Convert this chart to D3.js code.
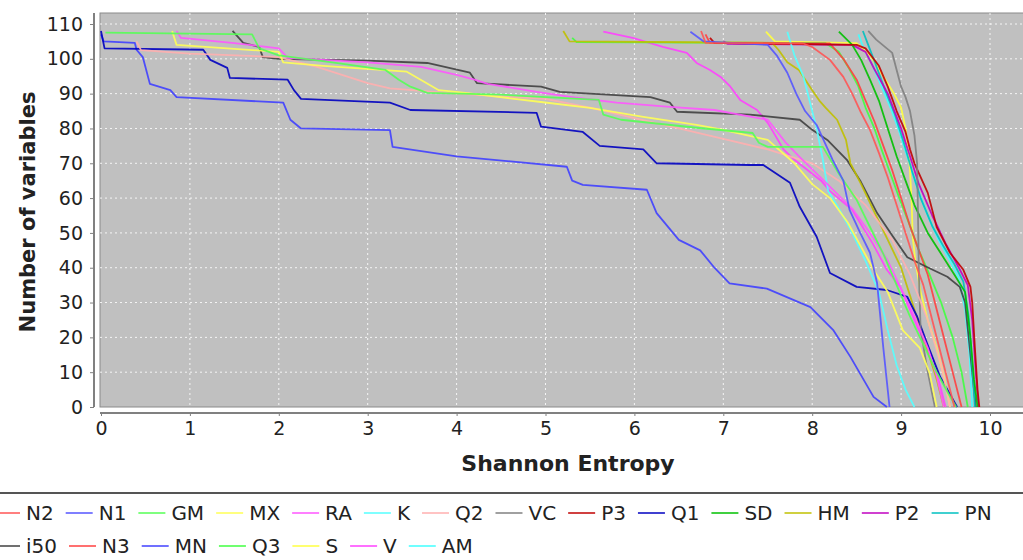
<!DOCTYPE html>
<html>
<head>
<meta charset="utf-8">
<script src="https://cdn.jsdelivr.net/npm/d3@7"></script>
<style>
  body { margin: 0; background: #fff; }
  svg { display: block; font-family: "DejaVu Sans", Verdana, sans-serif; }
</style>
</head>
<body>
<script>
// tick values
const xTicks = [0, 1, 2, 3, 4, 5, 6, 7, 8, 9, 10];
const yTicks = [0, 10, 20, 30, 40, 50, 60, 70, 80, 90, 100, 110];

// series names, in legend order
const seriesNames = ["N2", "N1", "GM", "MX", "RA", "K", "Q2", "VC", "P3", "Q1", "SD", "HM", "P2", "PN",
                     "i50", "N3", "MN", "Q3", "S", "V", "AM"];

// [entropy, number of variables]
const N2 = [[6.75,108],[6.8,104.6],[7.9,104.4],[8.0,103.4],[8.2,99.7],[8.35,94.8],[8.45,90],[8.55,84.5],[8.65,79.6],[8.75,73],[8.85,66],[8.95,58],[9.05,50],[9.15,42],[9.25,35],[9.35,25],[9.45,15],[9.55,5],[9.6,0]];
const N1 = [[6.63,107.8],[6.78,105],[7.5,104],[7.6,101],[7.72,96],[7.82,90],[7.92,85],[8.05,81],[8.23,71],[8.35,65],[8.42,56.6],[8.54,50],[8.65,44.3],[8.73,35.6],[8.8,17],[8.87,0]];
const GM = [[0.05,107.5],[1.7,107],[1.78,103],[2.0,101],[2.6,99],[3.2,96.8],[3.35,94],[3.48,92],[3.67,90.2],[4.5,89.7],[5.6,88.2],[5.65,84],[5.85,82.5],[6.7,80.2],[7.33,78.7],[7.4,75.9],[7.5,74.7],[8.12,74.7],[8.3,67],[8.5,59.5],[8.65,51.7],[8.8,44],[8.95,35],[9.1,26],[9.25,18],[9.4,10],[9.55,3],[9.62,0]];
const MX = [[0.8,108],[0.85,104],[2.0,102],[2.05,99],[2.5,98],[3.44,96.3],[3.8,91],[4.1,90.2],[4.95,87.6],[5.5,85.9],[6.1,83.3],[6.7,81],[7.0,79.6],[7.5,76.7],[7.8,70],[8.0,64],[8.2,60],[8.4,53],[8.55,46],[8.7,39],[8.85,33],[9.02,22],[9.21,17],[9.32,9.8],[9.4,0]];
const RA = [[0.85,108],[0.9,106],[1.5,104.5],[2.0,103],[2.1,100.3],[3.0,99],[3.6,97.7],[4.0,95.4],[4.2,94],[4.35,92.8],[4.9,90.5],[5.3,89],[5.8,87.4],[6.4,86.2],[6.9,85.3],[7.5,82.5],[7.7,76],[7.86,71.8],[8.05,67],[8.25,62],[8.45,57],[8.65,50],[8.85,42],[9.0,34],[9.15,26],[9.3,17],[9.4,9],[9.48,0]];
const K = [[7.72,107.8],[7.8,101],[7.9,95],[7.97,88],[8.05,80],[8.12,71],[8.18,62],[8.3,57],[8.45,50],[8.6,42],[8.75,33],[8.85,22],[8.95,12],[9.05,5],[9.15,0]];
const Q2 = [[0.4,105],[0.45,102.5],[1.0,101.5],[2.0,100.5],[2.43,97.7],[3.0,93],[3.25,91.5],[4.0,90],[5.0,88.5],[5.5,86],[6.0,83],[6.5,80],[7.0,77],[7.5,74],[8.0,70],[8.3,65],[8.6,58],[8.9,48],[9.1,38],[9.3,25],[9.45,12],[9.55,0]];
const VC = [[8.63,108],[8.72,105.5],[8.9,101.7],[8.95,96.8],[9.0,92],[9.05,89],[9.1,85],[9.15,78],[9.18,70],[9.19,55],[9.2,38],[9.22,22],[9.3,10],[9.38,0]];
const P3 = [[6.85,106],[6.9,104.6],[8.5,104],[8.6,103],[8.75,98],[8.85,92],[8.95,85],[9.05,79],[9.1,74],[9.15,70],[9.3,61.5],[9.4,51.7],[9.55,44.3],[9.7,39.4],[9.78,34.5],[9.8,30],[9.83,17],[9.86,5],[9.88,0]];
const Q1 = [[0,108],[0.04,103],[1.15,102.6],[1.23,99.7],[1.42,97.4],[1.45,94.5],[2.1,94],[2.17,91],[2.25,88.5],[3.25,87.4],[3.48,85.3],[4.9,84.5],[4.95,80.5],[5.42,79],[5.61,75],[6.1,74],[6.25,70],[7.3,69.5],[7.45,69.5],[7.75,64.4],[7.86,57.5],[8.05,48.9],[8.2,38.5],[8.5,34.5],[8.84,33.6],[9.07,31.6],[9.18,26],[9.29,18.4],[9.44,8.6],[9.63,0]];
const SD = [[8.3,107.8],[8.45,104],[8.55,99.7],[8.65,94],[8.75,88],[8.85,80],[8.95,72],[9.05,65],[9.15,58],[9.3,50],[9.45,44],[9.6,38],[9.72,33],[9.78,20],[9.82,8],[9.86,0]];
const HM = [[5.2,108],[5.27,105],[7.55,104.6],[7.62,102.6],[7.72,99],[7.85,96.8],[8.0,91],[8.08,88],[8.15,86],[8.28,82.5],[8.38,76.7],[8.43,70],[8.55,64],[8.7,56],[8.85,48],[9.0,40],[9.1,32],[9.2,24],[9.3,16],[9.4,8],[9.48,0]];
const P2 = [[7.0,105],[7.05,104.3],[8.45,104],[8.6,102],[8.7,97],[8.85,90],[9.0,80],[9.1,72],[9.2,64],[9.35,55],[9.5,47],[9.65,40],[9.75,35],[9.8,25],[9.84,10],[9.87,0]];
const PN = [[8.57,108],[8.63,104],[8.72,98],[8.82,91],[8.93,84],[9.03,76],[9.12,68],[9.22,60],[9.35,52],[9.48,46],[9.6,41],[9.7,36],[9.76,26],[9.8,12],[9.83,0]];
const i50 = [[1.48,108],[1.55,106],[1.6,104.6],[1.78,103.4],[1.82,100.5],[2.0,100],[3.0,99.5],[3.67,98.8],[4.15,96],[4.23,93],[4.95,92],[5.16,90.5],[6.18,89],[6.4,87.4],[6.48,84.8],[7.3,84],[7.86,82.5],[8.0,79.6],[8.17,76.7],[8.39,71],[8.54,65],[8.73,55.7],[8.91,48.9],[9.07,43],[9.29,40.2],[9.52,37.4],[9.66,34.5],[9.72,30],[9.78,15],[9.84,0]];
const N3 = [[6.8,107],[6.85,104.5],[8.2,104.4],[8.35,100],[8.5,94],[8.6,88],[8.7,82],[8.8,75],[8.9,68],[9.0,60],[9.1,52],[9.2,45],[9.3,38],[9.4,28],[9.5,18],[9.6,8],[9.68,0]];
const MN = [[0,107],[0.03,105],[0.38,104.6],[0.4,102.6],[0.47,100.5],[0.55,92.8],[0.78,91],[0.85,89],[2.05,87.4],[2.13,82.5],[2.25,80],[3.25,79.5],[3.28,74.7],[4.0,72],[5.24,69],[5.3,65],[5.42,63.8],[6.14,62.4],[6.25,55.7],[6.5,48],[6.74,45],[6.9,40],[7.07,35.5],[7.49,34],[7.98,28.7],[8.24,22],[8.43,14.4],[8.69,2.9],[8.84,0]];
const Q3 = [[5.3,106],[5.35,104.8],[8.15,104.5],[8.3,102],[8.42,97],[8.52,92],[8.6,86],[8.7,80],[8.78,74],[8.88,67],[8.98,60],[9.1,52],[9.2,45],[9.32,38],[9.45,30],[9.58,20],[9.68,10],[9.75,0]];
const S = [[7.48,107.8],[7.58,105],[8.5,104.5],[8.65,101],[8.8,95],[8.92,90],[9.0,86],[9.05,80],[9.08,74],[9.1,68],[9.12,58],[9.13,49],[9.16,42],[9.22,33],[9.3,25],[9.4,17],[9.48,9],[9.55,0]];
const V = [[5.65,107.8],[5.98,106],[6.32,103.4],[6.59,101.7],[6.7,98.8],[6.85,96.8],[6.97,94.8],[7.08,92],[7.19,88.2],[7.38,85.3],[7.5,81.6],[7.68,73.9],[7.8,71],[7.95,68],[8.1,65],[8.2,62],[8.45,56.6],[8.68,47],[8.84,39.4],[8.99,34.5],[9.2,22],[9.36,13.5],[9.45,5],[9.5,0]];
const AM = [[8.52,107],[8.58,103],[8.68,98],[8.78,92],[8.88,86],[8.98,79],[9.08,71],[9.18,63],[9.3,55],[9.42,48],[9.55,42],[9.65,37],[9.72,28],[9.77,15],[9.8,0]];

const seriesData = [N2, N1, GM, MX, RA, K, Q2, VC, P3, Q1, SD, HM, P2, PN, i50, N3, MN, Q3, S, V, AM];

// default JFreeChart series paints
const palette = ["#ff5555", "#5555ff", "#55ff55", "#ffff55", "#ff55ff", "#55ffff", "#ffafaf", "#808080",
                 "#c00000", "#0000c0", "#00c000", "#c0c000", "#c000c0", "#00c0c0", "#404040",
                 "#ff4040", "#4040ff", "#40ff40", "#ffff40", "#ff40ff", "#40ffff"];

function init() {
    var w = 1023, h = 560;
    var plot = {left: 100, top: 13, right: 1030, bottom: 407};

    var svg = d3.select("body").append("svg")
        .attr("width", w)
        .attr("height", h);

    var xScale = d3.scaleLinear().domain([0, 10]).range([101, 990]);
    var yScale = d3.scaleLinear().domain([0, 110]).range([407, 24]);

    svg.append("rect")
        .attr("x", plot.left).attr("y", plot.top)
        .attr("width", plot.right - plot.left).attr("height", plot.bottom - plot.top)
        .attr("fill", "#c0c0c0")
        .attr("stroke", "#8a8a8a");

    // grid
    svg.append("g").selectAll("line")
        .data(xTicks.slice(1))
        .enter().append("line")
        .attr("x1", d => xScale(d)).attr("x2", d => xScale(d))
        .attr("y1", plot.top).attr("y2", plot.bottom)
        .attr("stroke", "#ffffff").attr("stroke-dasharray", "2,3").attr("opacity", 0.85);
    svg.append("g").selectAll("line")
        .data(yTicks.slice(1))
        .enter().append("line")
        .attr("x1", plot.left).attr("x2", plot.right)
        .attr("y1", d => yScale(d)).attr("y2", d => yScale(d))
        .attr("stroke", "#ffffff").attr("stroke-dasharray", "2,3").attr("opacity", 0.85);

    svg.append("clipPath").attr("id", "clip")
        .append("rect")
        .attr("x", plot.left).attr("y", plot.top)
        .attr("width", plot.right - plot.left).attr("height", plot.bottom - plot.top + 1);

    var line = d3.line()
        .x(d => xScale(d[0]))
        .y(d => yScale(d[1]));

    var order = d3.range(seriesData.length).reverse();
    svg.append("g").attr("clip-path", "url(#clip)")
        .selectAll("path")
        .data(order)
        .enter().append("path")
        .attr("d", i => line(seriesData[i]))
        .attr("fill", "none")
        .attr("stroke", i => palette[i])
        .attr("stroke-width", 1.8)
        .attr("stroke-linejoin", "round")
        .attr("opacity", 0.9);

    // axes
    var xAxis = d3.axisBottom(xScale).tickValues(xTicks).tickSize(3).tickPadding(6);
    var gx = svg.append("g").attr("transform", "translate(0,413)").call(xAxis);
    gx.select(".domain").attr("d", "M" + plot.left + ",0H" + w).attr("stroke", "#808080").attr("stroke-width", 2);
    gx.selectAll(".tick line").attr("stroke", "#808080");
    gx.selectAll("text").attr("font-size", 19).attr("fill", "#222").attr("font-family", "DejaVu Sans");

    var yAxis = d3.axisLeft(yScale).tickValues(yTicks).tickSize(4).tickPadding(7);
    var gy = svg.append("g").attr("transform", "translate(94,0)").call(yAxis);
    gy.select(".domain").attr("d", "M0," + plot.top + "V" + plot.bottom).attr("stroke", "#808080").attr("stroke-width", 2);
    gy.selectAll(".tick line").attr("stroke", "#808080");
    gy.selectAll("text").attr("font-size", 19).attr("fill", "#222").attr("font-family", "DejaVu Sans");

    svg.append("text")
        .attr("x", 568).attr("y", 471)
        .attr("text-anchor", "middle")
        .attr("font-size", 22).attr("font-weight", "bold").attr("fill", "#222")
        .text("Shannon Entropy");

    svg.append("text")
        .attr("transform", "translate(35,212) rotate(-90)")
        .attr("text-anchor", "middle")
        .attr("font-size", 21).attr("font-weight", "bold").attr("fill", "#222")
        .text("Number of variables");

    // legend
    svg.append("line")
        .attr("x1", 0).attr("x2", w).attr("y1", 493).attr("y2", 493)
        .attr("stroke", "#555").attr("stroke-width", 2);

    var rows = [seriesNames.slice(0, 14), seriesNames.slice(14)];
    var legend = svg.append("g");
    rows.forEach(function(names, r) {
        var cy = 513 + r * 33;
        var x0 = -7;
        names.forEach(function(name) {
            var i = seriesNames.indexOf(name);
            legend.append("line")
                .attr("x1", x0).attr("x2", x0 + 27)
                .attr("y1", cy).attr("y2", cy)
                .attr("stroke", palette[i]).attr("stroke-width", 1.5);
            var t = legend.append("text")
                .attr("x", x0 + 33).attr("y", cy + 7)
                .attr("font-size", 20).attr("fill", "#222")
                .text(name);
            x0 = x0 + 33 + t.node().getComputedTextLength() + 12;
        });
    });
}
window.onload = init;
</script>
</body>
</html>
